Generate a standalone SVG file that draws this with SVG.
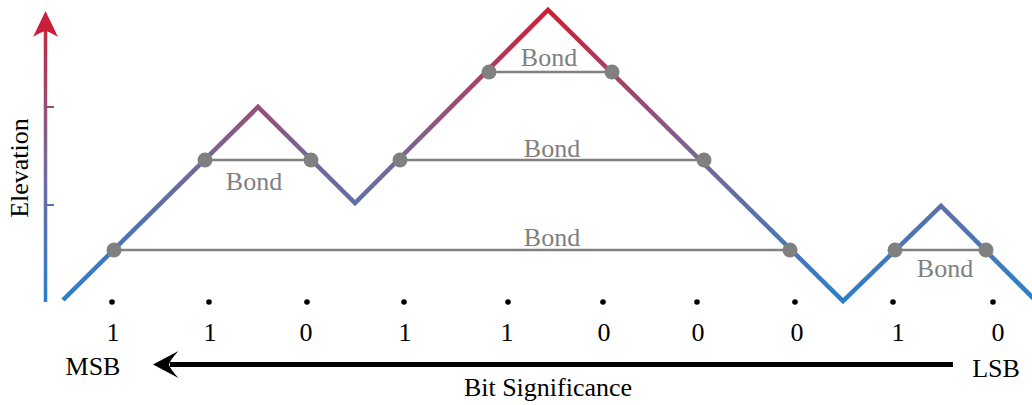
<svg xmlns="http://www.w3.org/2000/svg" width="1032" height="405" viewBox="0 0 1032 405" font-family="'Liberation Serif', 'Times New Roman', Times, serif">
<defs>
<linearGradient id="elev" gradientUnits="userSpaceOnUse" x1="0" y1="301" x2="0" y2="10">
<stop offset="0" stop-color="#2a80cb"/>
<stop offset="0.5" stop-color="#7a6696"/>
<stop offset="1" stop-color="#cc1f36"/>
</linearGradient>
<style>
text{font-family:'Liberation Serif', 'Times New Roman', Times, serif}
.t{font-size:26px;fill:#000;text-anchor:middle}
.b{font-size:26px;fill:#808080;text-anchor:middle}
.bond{stroke:#808080;stroke-width:2.5;fill:none}
.nd{fill:#808080}
.dot{fill:#000}
</style>
</defs>
<rect width="1032" height="405" fill="#fff"/>
<g id="axis">
<line x1="45.5" y1="302" x2="45.5" y2="30" stroke="url(#elev)" stroke-width="3.5"/>
<line x1="45.5" y1="107" x2="54" y2="107" stroke="url(#elev)" stroke-width="2"/>
<line x1="45.5" y1="205" x2="54" y2="205" stroke="url(#elev)" stroke-width="2"/>
<path d="M45.5,11 L58,37 Q50,32 45.5,31 Q41,32 33,37 Z" fill="#c8203a"/>
<text class="t" transform="translate(28,168) rotate(-90)">Elevation</text>
</g>
<g id="connectors">
<path d="M63,300 L258,107 L355,203 L548,10 L843,301 L941,206 L1036,301" fill="none" stroke="url(#elev)" stroke-width="4.5" stroke-linejoin="miter"/>
</g>
<g id="bond1">
<line class="bond" x1="114" y1="250" x2="790" y2="250"/>
<circle class="nd" cx="114" cy="250" r="7.5"/>
<circle class="nd" cx="790" cy="250" r="7.5"/>
<text class="b" x="552" y="246">Bond</text>
</g>
<g id="bond2">
<line class="bond" x1="205" y1="160" x2="311" y2="160"/>
<circle class="nd" cx="205" cy="160" r="7.5"/>
<circle class="nd" cx="311" cy="160" r="7.5"/>
<text class="b" x="254" y="190">Bond</text>
</g>
<g id="bond3">
<line class="bond" x1="400" y1="160" x2="704" y2="160"/>
<circle class="nd" cx="400" cy="160" r="7.5"/>
<circle class="nd" cx="704" cy="160" r="7.5"/>
<text class="b" x="552" y="157">Bond</text>
</g>
<g id="bond4">
<line class="bond" x1="489" y1="72" x2="612" y2="72"/>
<circle class="nd" cx="489" cy="72" r="7.5"/>
<circle class="nd" cx="612" cy="72" r="7.5"/>
<text class="b" x="549" y="66">Bond</text>
</g>
<g id="bond5">
<line class="bond" x1="895" y1="250" x2="986" y2="250"/>
<circle class="nd" cx="895" cy="250" r="7.5"/>
<circle class="nd" cx="986" cy="250" r="7.5"/>
<text class="b" x="945" y="277">Bond</text>
</g>
<g id="bits">
<g id="bit9"><circle class="dot" cx="112" cy="302" r="2.8"/><text class="t" x="113" y="341">1</text></g>
<g id="bit8"><circle class="dot" cx="209" cy="302" r="2.8"/><text class="t" x="210" y="341">1</text></g>
<g id="bit7"><circle class="dot" cx="307" cy="302" r="2.8"/><text class="t" x="306" y="341">0</text></g>
<g id="bit6"><circle class="dot" cx="404" cy="302" r="2.8"/><text class="t" x="405" y="341">1</text></g>
<g id="bit5"><circle class="dot" cx="508" cy="302" r="2.8"/><text class="t" x="507" y="341">1</text></g>
<g id="bit4"><circle class="dot" cx="603" cy="302" r="2.8"/><text class="t" x="604" y="341">0</text></g>
<g id="bit3"><circle class="dot" cx="697" cy="302" r="2.8"/><text class="t" x="698" y="341">0</text></g>
<g id="bit2"><circle class="dot" cx="795" cy="302" r="2.8"/><text class="t" x="797" y="341">0</text></g>
<g id="bit1"><circle class="dot" cx="893" cy="302" r="2.8"/><text class="t" x="898" y="341">1</text></g>
<g id="bit0"><circle class="dot" cx="993" cy="302" r="2.8"/><text class="t" x="998" y="341">0</text></g>
</g>
<g id="significance">
<line x1="953" y1="364.5" x2="170" y2="364.5" stroke="#000" stroke-width="5"/>
<path d="M153,364.5 L178.5,351 Q170,360 169,364.5 Q170,369 178.5,378 Z" fill="#000"/>
<text class="t" x="93" y="375">MSB</text>
<text class="t" x="996" y="377">LSB</text>
<text class="t" x="548" y="396">Bit Significance</text>
</g>
</svg>
